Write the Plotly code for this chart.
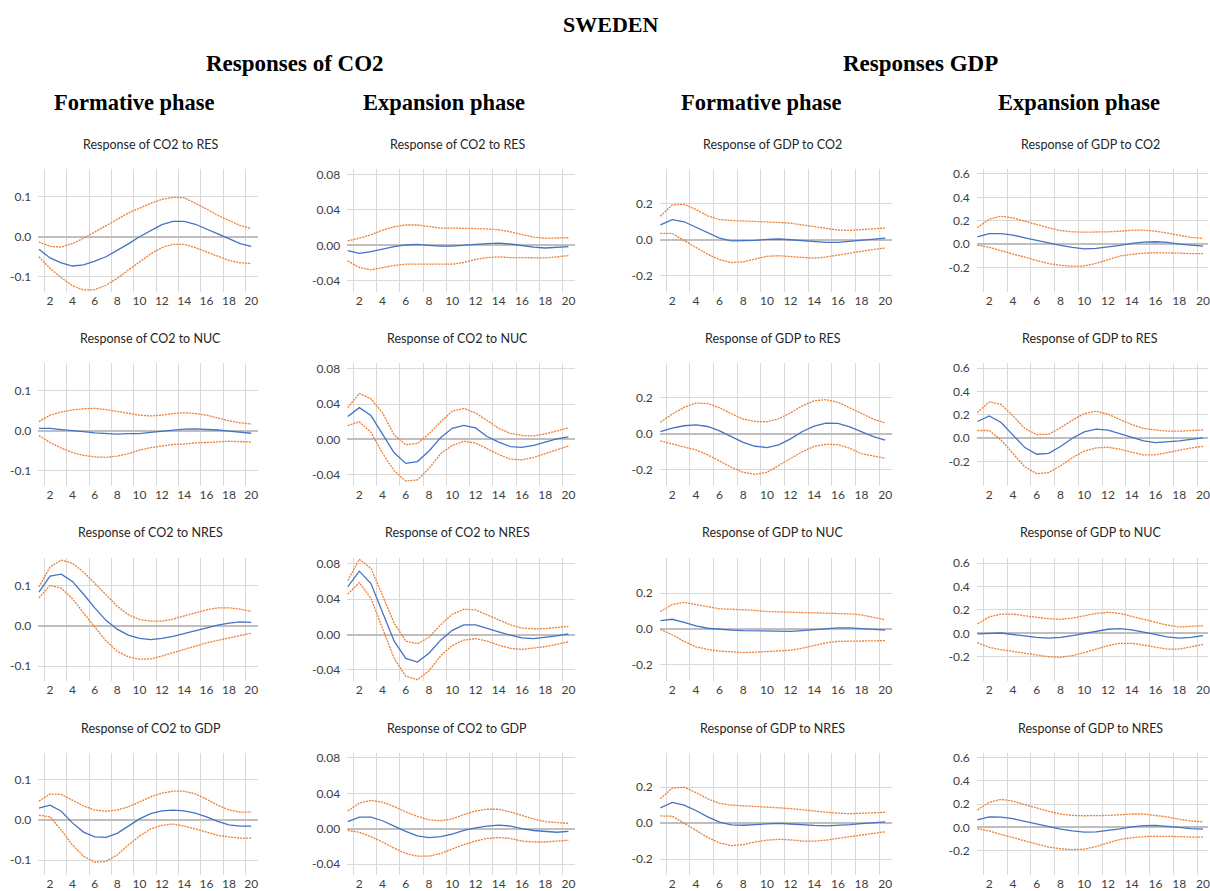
import plotly.graph_objects as go

W, H = 1210, 891
periods = list(range(1, 21))
x_tick_labels = [str(v) for v in range(2, 21, 2)]

# ---------------- Responses of CO2, formative phase ----------------
co2_res_form_irf = [-0.031, -0.053, -0.065, -0.073, -0.070, -0.061, -0.050, -0.035, -0.018, 0.000,
                    0.016, 0.030, 0.038, 0.038, 0.031, 0.020, 0.007, -0.005, -0.017, -0.024]
co2_res_form_up = [-0.013, -0.024, -0.026, -0.017, -0.004, 0.011, 0.027, 0.043, 0.059, 0.072,
                   0.083, 0.093, 0.098, 0.097, 0.084, 0.069, 0.053, 0.040, 0.028, 0.020]
co2_res_form_lo = [-0.050, -0.079, -0.102, -0.122, -0.133, -0.132, -0.121, -0.104, -0.083, -0.063,
                   -0.043, -0.027, -0.019, -0.019, -0.027, -0.038, -0.048, -0.059, -0.065, -0.067]

co2_nuc_form_irf = [0.006, 0.006, 0.003, 0.001, -0.002, -0.005, -0.007, -0.008, -0.007, -0.007,
                    -0.004, -0.001, 0.002, 0.004, 0.005, 0.004, 0.002, -0.001, -0.003, -0.006]
co2_nuc_form_up = [0.023, 0.039, 0.047, 0.052, 0.055, 0.056, 0.053, 0.048, 0.043, 0.039,
                   0.037, 0.039, 0.043, 0.045, 0.043, 0.039, 0.032, 0.025, 0.020, 0.017]
co2_nuc_form_lo = [-0.012, -0.029, -0.043, -0.054, -0.061, -0.065, -0.066, -0.063, -0.057, -0.048,
                   -0.042, -0.038, -0.034, -0.033, -0.030, -0.029, -0.027, -0.026, -0.027, -0.028]

co2_nres_form_irf = [0.084, 0.124, 0.129, 0.111, 0.079, 0.045, 0.014, -0.008, -0.023, -0.031,
                     -0.034, -0.031, -0.026, -0.019, -0.012, -0.004, 0.002, 0.007, 0.010, 0.009]
co2_nres_form_up = [0.097, 0.147, 0.164, 0.156, 0.134, 0.107, 0.078, 0.049, 0.028, 0.016,
                    0.012, 0.012, 0.017, 0.025, 0.033, 0.040, 0.045, 0.045, 0.042, 0.036]
co2_nres_form_lo = [0.070, 0.101, 0.094, 0.068, 0.032, -0.004, -0.037, -0.063, -0.077, -0.083,
                    -0.082, -0.075, -0.067, -0.059, -0.050, -0.042, -0.036, -0.030, -0.025, -0.018]

co2_gdp_form_irf = [0.030, 0.037, 0.022, -0.007, -0.030, -0.042, -0.043, -0.033, -0.015, 0.003,
                    0.016, 0.023, 0.025, 0.023, 0.017, 0.008, -0.003, -0.012, -0.015, -0.015]
co2_gdp_form_up = [0.047, 0.065, 0.064, 0.050, 0.035, 0.025, 0.022, 0.025, 0.033, 0.045,
                   0.058, 0.067, 0.072, 0.072, 0.065, 0.052, 0.037, 0.025, 0.020, 0.020]
co2_gdp_form_lo = [0.012, 0.008, -0.025, -0.062, -0.090, -0.105, -0.103, -0.087, -0.062, -0.040,
                   -0.022, -0.013, -0.010, -0.015, -0.022, -0.030, -0.038, -0.042, -0.045, -0.045]

# ---------------- Responses of CO2, expansion phase ----------------
co2_res_exp_irf = [-0.0060, -0.0090, -0.0070, -0.0040, -0.0015, 0.0004, 0.0010, 0.0000, -0.0010, -0.0010,
                   -0.0004, 0.0010, 0.0020, 0.0026, 0.0015, -0.0004, -0.0020, -0.0030, -0.0026, -0.0015]
co2_res_exp_up = [0.0050, 0.0080, 0.0120, 0.0170, 0.0210, 0.0230, 0.0230, 0.0210, 0.0195, 0.0195,
                  0.0195, 0.0190, 0.0185, 0.0176, 0.0153, 0.0120, 0.0093, 0.0080, 0.0080, 0.0086]
co2_res_exp_lo = [-0.0176, -0.0250, -0.0277, -0.0250, -0.0228, -0.0213, -0.0213, -0.0213, -0.0217, -0.0213,
                  -0.0194, -0.0160, -0.0138, -0.0130, -0.0138, -0.0142, -0.0146, -0.0142, -0.0130, -0.0116]

co2_nuc_exp_irf = [0.026, 0.036, 0.027, 0.0056, -0.015, -0.027, -0.025, -0.013, 0.002, 0.0126,
                   0.016, 0.013, 0.0033, -0.003, -0.008, -0.009, -0.0067, -0.003, 0.0007, 0.003]
co2_nuc_exp_up = [0.036, 0.052, 0.046, 0.030, 0.005, -0.006, -0.0045, 0.0063, 0.020, 0.032,
                  0.035, 0.030, 0.0215, 0.0126, 0.007, 0.0045, 0.004, 0.0063, 0.0097, 0.013]
co2_nuc_exp_lo = [0.0156, 0.020, 0.008, -0.0156, -0.0353, -0.047, -0.0457, -0.0327, -0.016, -0.0067,
                  -0.0022, -0.004, -0.0104, -0.017, -0.0223, -0.023, -0.0204, -0.016, -0.011, -0.0074]

co2_nres_exp_irf = [0.054, 0.0717, 0.0576, 0.025, -0.0074, -0.027, -0.031, -0.021, -0.0063, 0.0048,
                    0.011, 0.011, 0.0074, 0.003, -0.0007, -0.0037, -0.0045, -0.0033, -0.0015, 0.0007]
co2_nres_exp_up = [0.061, 0.085, 0.075, 0.0446, 0.013, -0.0074, -0.0104, -0.003, 0.011, 0.023,
                   0.0286, 0.0279, 0.0227, 0.0167, 0.011, 0.0074, 0.0063, 0.0067, 0.0082, 0.0093]
co2_nres_exp_lo = [0.0457, 0.0587, 0.041, 0.0074, -0.027, -0.047, -0.051, -0.041, -0.024, -0.0123,
                   -0.0063, -0.0045, -0.0074, -0.0119, -0.0156, -0.0167, -0.0156, -0.0137, -0.0111, -0.0082]

co2_gdp_exp_irf = [0.008, 0.013, 0.013, 0.009, 0.003, -0.003, -0.008, -0.010, -0.009, -0.006,
                   -0.002, 0.001, 0.003, 0.004, 0.003, 0.000, -0.002, -0.003, -0.004, -0.003]
co2_gdp_exp_up = [0.020, 0.029, 0.032, 0.030, 0.025, 0.019, 0.014, 0.010, 0.009, 0.011,
                  0.016, 0.020, 0.022, 0.022, 0.019, 0.015, 0.011, 0.008, 0.007, 0.006]
co2_gdp_exp_lo = [-0.002, -0.004, -0.009, -0.015, -0.022, -0.028, -0.031, -0.031, -0.028, -0.023,
                  -0.018, -0.014, -0.011, -0.010, -0.011, -0.014, -0.015, -0.015, -0.014, -0.013]

# ---------------- Responses of GDP, formative phase ----------------
gdp_co2_form_irf = [0.083, 0.112, 0.100, 0.070, 0.037, 0.009, -0.006, -0.007, -0.004, 0.002,
                    0.004, 0.000, -0.006, -0.011, -0.015, -0.015, -0.009, -0.004, 0.004, 0.009]
gdp_co2_form_up = [0.131, 0.194, 0.197, 0.168, 0.133, 0.112, 0.107, 0.105, 0.103, 0.100,
                   0.096, 0.092, 0.083, 0.074, 0.061, 0.054, 0.052, 0.057, 0.063, 0.065]
gdp_co2_form_lo = [0.035, 0.035, -0.004, -0.042, -0.081, -0.111, -0.127, -0.123, -0.107, -0.092,
                   -0.089, -0.094, -0.101, -0.103, -0.096, -0.085, -0.074, -0.063, -0.054, -0.046]

gdp_res_form_irf = [0.013, 0.032, 0.045, 0.050, 0.041, 0.017, -0.015, -0.047, -0.069, -0.076,
                    -0.061, -0.028, 0.013, 0.043, 0.060, 0.058, 0.039, 0.013, -0.015, -0.035]
gdp_res_form_up = [0.065, 0.110, 0.147, 0.171, 0.169, 0.145, 0.112, 0.082, 0.069, 0.067,
                   0.084, 0.117, 0.156, 0.184, 0.190, 0.176, 0.145, 0.112, 0.082, 0.061]
gdp_res_form_lo = [-0.039, -0.058, -0.073, -0.089, -0.117, -0.151, -0.186, -0.214, -0.225, -0.214,
                   -0.177, -0.136, -0.099, -0.069, -0.058, -0.060, -0.080, -0.110, -0.125, -0.136]

gdp_nuc_form_irf = [0.047, 0.054, 0.037, 0.017, 0.004, -0.002, -0.006, -0.009, -0.011, -0.013,
                    -0.013, -0.013, -0.009, -0.004, 0.002, 0.006, 0.006, 0.004, -0.002, -0.006]
gdp_nuc_form_up = [0.097, 0.136, 0.148, 0.136, 0.121, 0.112, 0.110, 0.108, 0.103, 0.097,
                   0.095, 0.093, 0.093, 0.092, 0.090, 0.088, 0.084, 0.078, 0.067, 0.052]
gdp_nuc_form_lo = [-0.002, -0.032, -0.069, -0.099, -0.114, -0.123, -0.127, -0.131, -0.129, -0.125,
                   -0.121, -0.118, -0.107, -0.090, -0.077, -0.069, -0.069, -0.069, -0.067, -0.065]

gdp_nres_form_irf = [0.085, 0.115, 0.100, 0.070, 0.035, 0.005, -0.010, -0.012, -0.008, -0.003,
                     -0.002, -0.005, -0.010, -0.013, -0.015, -0.013, -0.008, -0.003, 0.003, 0.007]
gdp_nres_form_up = [0.135, 0.195, 0.200, 0.170, 0.135, 0.110, 0.100, 0.097, 0.093, 0.090,
                    0.085, 0.080, 0.075, 0.068, 0.060, 0.055, 0.052, 0.055, 0.058, 0.060]
gdp_nres_form_lo = [0.040, 0.038, 0.000, -0.040, -0.080, -0.110, -0.125, -0.120, -0.105, -0.095,
                    -0.090, -0.093, -0.100, -0.100, -0.095, -0.085, -0.075, -0.065, -0.055, -0.048]

# ---------------- Responses of GDP, expansion phase ----------------
gdp_co2_exp_irf = [0.062, 0.090, 0.090, 0.077, 0.054, 0.031, 0.009, -0.011, -0.028, -0.040,
                   -0.037, -0.026, -0.011, 0.006, 0.017, 0.020, 0.014, 0.000, -0.011, -0.017]
gdp_co2_exp_up = [0.140, 0.213, 0.238, 0.224, 0.196, 0.167, 0.139, 0.116, 0.105, 0.102,
                  0.102, 0.105, 0.110, 0.119, 0.119, 0.110, 0.094, 0.074, 0.057, 0.048]
gdp_co2_exp_lo = [-0.009, -0.028, -0.057, -0.085, -0.113, -0.142, -0.167, -0.181, -0.190, -0.187,
                  -0.165, -0.133, -0.102, -0.088, -0.077, -0.074, -0.074, -0.077, -0.082, -0.082]

gdp_res_exp_irf = [0.143, 0.190, 0.134, 0.026, -0.080, -0.137, -0.129, -0.071, 0.000, 0.054,
                   0.077, 0.069, 0.040, 0.006, -0.023, -0.037, -0.031, -0.023, -0.009, 0.003]
gdp_res_exp_up = [0.220, 0.311, 0.289, 0.191, 0.083, 0.031, 0.034, 0.089, 0.154, 0.211,
                  0.231, 0.206, 0.160, 0.117, 0.083, 0.069, 0.060, 0.060, 0.066, 0.071]
gdp_res_exp_lo = [0.066, 0.066, -0.017, -0.131, -0.246, -0.303, -0.294, -0.237, -0.166, -0.111,
                  -0.083, -0.077, -0.094, -0.120, -0.143, -0.143, -0.123, -0.100, -0.083, -0.069]

gdp_nuc_exp_irf = [-0.005, 0.000, 0.003, -0.010, -0.025, -0.035, -0.040, -0.035, -0.020, 0.000,
                   0.020, 0.035, 0.040, 0.030, 0.010, -0.010, -0.030, -0.040, -0.035, -0.020]
gdp_nuc_exp_up = [0.080, 0.140, 0.165, 0.165, 0.150, 0.135, 0.125, 0.120, 0.130, 0.150,
                  0.170, 0.180, 0.170, 0.145, 0.120, 0.095, 0.070, 0.055, 0.060, 0.065]
gdp_nuc_exp_lo = [-0.080, -0.120, -0.140, -0.155, -0.170, -0.185, -0.200, -0.205, -0.190, -0.165,
                  -0.135, -0.105, -0.085, -0.085, -0.100, -0.120, -0.135, -0.135, -0.115, -0.095]

gdp_nres_exp_irf = [0.065, 0.090, 0.088, 0.075, 0.052, 0.028, 0.005, -0.015, -0.030, -0.040,
                    -0.038, -0.027, -0.012, 0.005, 0.015, 0.018, 0.012, 0.000, -0.010, -0.015]
gdp_nres_exp_up = [0.150, 0.215, 0.240, 0.225, 0.195, 0.165, 0.138, 0.115, 0.103, 0.100,
                   0.100, 0.103, 0.108, 0.115, 0.115, 0.105, 0.090, 0.070, 0.055, 0.048]
gdp_nres_exp_lo = [-0.010, -0.030, -0.060, -0.088, -0.115, -0.143, -0.168, -0.182, -0.190, -0.185,
                   -0.163, -0.132, -0.102, -0.088, -0.078, -0.075, -0.075, -0.078, -0.082, -0.083]

# panel titles (row-major, 4 columns)
panel_titles = [
    ["Response of CO2 to RES", "Response of CO2 to RES", "Response of GDP to CO2", "Response of GDP to CO2"],
    ["Response of CO2 to NUC", "Response of CO2 to NUC", "Response of GDP to RES", "Response of GDP to RES"],
    ["Response of CO2 to NRES", "Response of CO2 to NRES", "Response of GDP to NUC", "Response of GDP to NUC"],
    ["Response of CO2 to GDP", "Response of CO2 to GDP", "Response of GDP to NRES", "Response of GDP to NRES"],
]
panel_data = [
    [(co2_res_form_irf, co2_res_form_up, co2_res_form_lo), (co2_res_exp_irf, co2_res_exp_up, co2_res_exp_lo),
     (gdp_co2_form_irf, gdp_co2_form_up, gdp_co2_form_lo), (gdp_co2_exp_irf, gdp_co2_exp_up, gdp_co2_exp_lo)],
    [(co2_nuc_form_irf, co2_nuc_form_up, co2_nuc_form_lo), (co2_nuc_exp_irf, co2_nuc_exp_up, co2_nuc_exp_lo),
     (gdp_res_form_irf, gdp_res_form_up, gdp_res_form_lo), (gdp_res_exp_irf, gdp_res_exp_up, gdp_res_exp_lo)],
    [(co2_nres_form_irf, co2_nres_form_up, co2_nres_form_lo), (co2_nres_exp_irf, co2_nres_exp_up, co2_nres_exp_lo),
     (gdp_nuc_form_irf, gdp_nuc_form_up, gdp_nuc_form_lo), (gdp_nuc_exp_irf, gdp_nuc_exp_up, gdp_nuc_exp_lo)],
    [(co2_gdp_form_irf, co2_gdp_form_up, co2_gdp_form_lo), (co2_gdp_exp_irf, co2_gdp_exp_up, co2_gdp_exp_lo),
     (gdp_nres_form_irf, gdp_nres_form_up, gdp_nres_form_lo), (gdp_nres_exp_irf, gdp_nres_exp_up, gdp_nres_exp_lo)],
]

# y ticks per column
col_yticks = [
    ([0.1, 0.0, -0.1], ["0.1", "0.0", "-0.1"]),
    ([0.08, 0.04, 0.0, -0.04], ["0.08", "0.04", "0.00", "-0.04"]),
    ([0.2, 0.0, -0.2], ["0.2", "0.0", "-0.2"]),
    ([0.6, 0.4, 0.2, 0.0, -0.2], ["0.6", "0.4", "0.2", "0.0", "-0.2"]),
]
col_yrange = [[-0.137, 0.168], [-0.0524, 0.086], [-0.289, 0.392], [-0.407, 0.64]]

# layout geometry (pixels)
col_px = [(38.4, 258.4), (347.7, 576.3), (660.9, 893.8), (978.4, 1210)]
col_xrange = [[0.95, 20.6], [0.95, 20.6], [0.95, 20.6], [0.95, 20.42]]
col_title_x = [151, 458, 774, 1092]
row_top = [167, 362, 558, 753]
row_title_y = [142, 337, 532, 729]
plot_h = 123

BLUE = "#4472C4"
ORANGE = "#ED7D31"
GRID = "#D9D9D9"
ZERO = "#BFBFBF"
TICK_FONT = dict(family="Lato, Liberation Sans, sans-serif", size=12, color="#404040")

fig = go.Figure()
annotations = []
layout = {}
minor_vals = [v + 0.5 for v in range(1, 20, 2)]

for r in range(4):
    for c in range(4):
        i = r * 4 + c + 1
        xa = f"x{i}" if i > 1 else "x"
        ya = f"y{i}" if i > 1 else "y"
        irf, up, lo = panel_data[r][c]
        for series, color, dash, w in ((up, ORANGE, "2px,1px", 1.3), (lo, ORANGE, "2px,1px", 1.3),
                                       (irf, BLUE, "solid", 1.3)):
            fig.add_trace(go.Scatter(x=periods, y=series, mode="lines", xaxis=xa, yaxis=ya,
                                     line=dict(color=color, width=w, dash=dash),
                                     showlegend=False, hoverinfo="skip"))
        x0, x1 = col_px[c]
        top = row_top[r]
        bot = top + plot_h
        layout[f"xaxis{i}"] = dict(
            domain=[x0 / W, x1 / W], anchor=ya, range=col_xrange[c],
            tickmode="array", tickvals=list(range(2, 21, 2)), ticktext=x_tick_labels,
            showgrid=False, zeroline=False, showline=False, ticks="",
            minor=dict(tickmode="array", tickvals=minor_vals, showgrid=True, gridcolor=GRID, gridwidth=1, ticks=""),
            tickfont=TICK_FONT, fixedrange=True, ticklabeloverflow="allow",
        )
        tv, tt = col_yticks[c]
        layout[f"yaxis{i}"] = dict(
            domain=[1 - bot / H, 1 - top / H], anchor=xa, range=col_yrange[c],
            tickmode="array", tickvals=tv, ticktext=tt,
            showgrid=True, gridcolor=GRID, gridwidth=1,
            zeroline=True, zerolinecolor=ZERO, zerolinewidth=2,
            showline=False, ticks="", ticklabelstandoff=6,
            tickfont=TICK_FONT, fixedrange=True,
        )
        annotations.append(dict(text=panel_titles[r][c], x=col_title_x[c] / W, y=1 - row_title_y[r] / H,
                                xref="paper", yref="paper", xanchor="center", yanchor="middle",
                                showarrow=False,
                                font=dict(family="Lato, Liberation Sans, sans-serif", size=12.5, color="#262626")))

HEAD_FONT = dict(family="Liberation Serif, Times New Roman, serif", size=21, color="#000000")
headers = [
    ("<b>SWEDEN</b>", 612, 22, 22),
    ("<b>Responses of CO2</b>", 295, 61, 23),
    ("<b>Responses GDP</b>", 922, 61, 23),
    ("<b>Formative phase</b>", 135, 100, 22.5),
    ("<b>Expansion phase</b>", 445, 100, 22.5),
    ("<b>Formative phase</b>", 763, 100, 22.5),
    ("<b>Expansion phase</b>", 1081, 100, 22.5),
]
for text, hx, hy, size in headers:
    annotations.append(dict(text=text, x=hx / W, y=1 - hy / H, xref="paper", yref="paper",
                            xanchor="center", yanchor="middle", showarrow=False,
                            font=dict(HEAD_FONT, size=size)))

layout["xaxis"] = layout.pop("xaxis1")
layout["yaxis"] = layout.pop("yaxis1")
fig.update_layout(**layout)
fig.update_layout(width=W, height=H, margin=dict(l=0, r=0, t=0, b=0),
                  paper_bgcolor="white", plot_bgcolor="white",
                  annotations=annotations, showlegend=False)

fig.write_html("out.html", config={"displayModeBar": False},
               post_script="document.body.style.margin='0px';document.body.style.overflow='hidden';")
